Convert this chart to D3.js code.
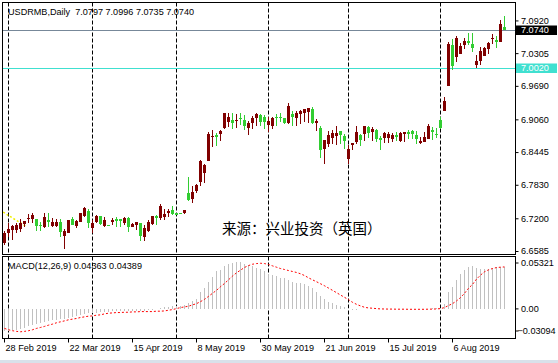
<!DOCTYPE html>
<html><head><meta charset="utf-8">
<script src="https://cdn.jsdelivr.net/npm/d3@7"></script>
<style>
html,body{margin:0;padding:0;background:#fff;}
svg{display:block;}
text{font-family:"Liberation Sans",Arial,sans-serif;fill:#000;}
</style></head><body>
<svg id="c" width="558" height="363"></svg>
<script>
// ---------------- data ----------------
const symbol = "USDRMB";
const period = "Daily";
const firstDate = "2019-02-28";
const holidays = ["2019-04-19"];

const open = [6.6740,6.6916,6.6978,6.6978,6.6997,6.7090,6.7184,6.7184,6.7178,6.7081,
6.7029,6.7165,6.7053,6.7053,6.7134,6.6871,6.6927,6.7190,6.7059,6.7134,
6.7240,6.7339,6.7021,6.7134,6.7240,6.7059,6.7075,6.7122,6.7178,6.7178,
6.7115,6.7197,6.7040,6.7066,6.7104,6.6853,6.6965,6.7090,6.7240,6.7208,
6.7227,6.7291,6.7353,6.7291,6.7291,6.7291,6.7676,6.7564,6.7714,6.7877,
6.8051,6.8276,6.8720,6.8770,6.8776,6.8894,6.9006,6.9057,6.9038,6.9094,
6.9057,6.8894,6.8987,6.9081,6.9137,6.9100,6.8963,6.8944,6.9100,6.9100,
6.9089,6.8987,6.9163,6.9089,6.9163,6.9188,6.9206,6.9263,6.8987,6.8894,
6.8495,6.8602,6.8706,6.8751,6.8832,6.8738,6.8308,6.8583,6.8632,6.8757,
6.8776,6.8912,6.8819,6.8864,6.8714,6.8706,6.8706,6.8695,6.8770,6.8645,
6.8789,6.8819,6.8832,6.8757,6.8613,6.8632,6.8695,6.8851,6.8785,6.9051,
6.9225,6.9693,7.0461,7.0236,7.0298,7.0461,7.0536,7.0485,7.0087,7.0161,
7.0255,7.0392,7.0568,7.0555,7.0523,7.0797];
const high = [6.6959,6.7104,6.7072,6.7104,6.7178,6.7156,6.7278,6.7291,6.7193,6.7134,
6.7302,6.7302,6.7197,6.7184,6.7184,6.6991,6.7174,6.7216,6.7165,6.7296,
6.7414,6.7384,6.7165,6.7259,6.7250,6.7227,6.7081,6.7208,6.7227,6.7184,
6.7227,6.7227,6.7115,6.7134,6.7115,6.7072,6.7165,6.7250,6.7259,6.7478,
6.7384,6.7366,6.7427,6.7302,6.7302,6.7362,6.7976,6.7802,6.7853,6.8289,
6.8227,6.8819,6.8864,6.8800,6.8864,6.9182,6.9175,6.9175,6.9163,6.9188,
6.9150,6.9038,6.9132,6.9175,6.9163,6.9137,6.9100,6.9113,6.9163,6.9175,
6.9094,6.9362,6.9212,6.9225,6.9238,6.9263,6.9276,6.9300,6.9070,6.8944,
6.8673,6.8832,6.8851,6.8926,6.8838,6.8789,6.8570,6.8617,6.8926,6.8789,
6.8931,6.8944,6.8912,6.8883,6.8738,6.8819,6.8819,6.8800,6.8819,6.8819,
6.8823,6.8851,6.8851,6.8832,6.8725,6.8819,6.8976,6.8912,6.8894,6.9100,
6.9487,7.0523,7.0579,7.0635,7.0504,7.0587,7.0686,7.0686,7.0274,7.0424,
7.0418,7.0508,7.0673,7.0630,7.0929,7.0996];
const low = [6.6697,6.6853,6.6791,6.6916,6.6946,6.7034,6.7104,6.7104,6.6965,6.6965,
6.7010,6.7029,6.7029,6.7029,6.6853,6.6628,6.6916,6.7066,6.7010,6.7122,
6.7227,6.7010,6.6916,6.7104,6.7066,6.7040,6.7062,6.7072,6.7040,6.7040,
6.7072,6.6941,6.7029,6.6978,6.6778,6.6778,6.6946,6.7072,6.7072,6.7165,
6.7165,6.7216,6.7259,6.7259,6.7272,6.7287,6.7527,6.7489,6.7676,6.7802,
6.7864,6.8270,6.8538,6.8557,6.8650,6.8883,6.8912,6.8883,6.8894,6.8963,
6.8864,6.8757,6.8883,6.8944,6.8931,6.8883,6.8819,6.8883,6.8944,6.9006,
6.8982,6.8982,6.8944,6.8944,6.8976,6.9006,6.8987,6.8976,6.8837,6.8339,
6.8214,6.8538,6.8602,6.8570,6.8602,6.8495,6.8227,6.8476,6.8602,6.8551,
6.8650,6.8714,6.8650,6.8632,6.8476,6.8620,6.8613,6.8632,6.8645,6.8632,
6.8632,6.8695,6.8695,6.8602,6.8588,6.8626,6.8692,6.8677,6.8714,6.8883,
6.9216,6.9688,6.9993,7.0143,7.0293,7.0392,7.0461,7.0317,7.0017,7.0087,
7.0249,7.0298,7.0485,7.0410,7.0517,7.0735];
const close = [6.6916,6.6991,6.7053,6.7072,6.7115,6.7147,6.7203,6.7259,6.7053,6.7062,
6.7227,6.7128,6.7134,6.7134,6.6946,6.6959,6.7165,6.7077,6.7152,6.7291,
6.7390,6.7115,6.7115,6.7240,6.7090,6.7165,6.7066,6.7165,6.7147,6.7152,
6.7197,6.7029,6.7090,6.7128,6.6871,6.7010,6.7134,6.7240,6.7208,6.7427,
6.7278,6.7339,6.7278,6.7265,6.7278,6.7353,6.7553,6.7690,6.7826,6.8270,
6.8201,6.8776,6.8738,6.8725,6.8838,6.9175,6.9113,6.9000,6.9057,6.9075,
6.8944,6.8987,6.9081,6.9156,6.9006,6.9019,6.9038,6.9081,6.9089,6.9081,
6.8987,6.9306,6.9100,6.9175,6.9212,6.9249,6.9268,6.8987,6.9038,6.8476,
6.8663,6.8757,6.8800,6.8800,6.8757,6.8650,6.8495,6.8613,6.8819,6.8677,
6.8926,6.8800,6.8883,6.8695,6.8663,6.8800,6.8789,6.8770,6.8725,6.8800,
6.8819,6.8789,6.8776,6.8682,6.8650,6.8725,6.8926,6.8819,6.8766,6.8901,
6.9399,7.0485,7.0055,7.0587,7.0442,7.0536,7.0493,7.0410,7.0161,7.0336,
7.0410,7.0504,7.0587,7.0517,7.0849,7.0740];

// MACD(12,26,9): main (histogram) and signal
const macdMain = [-0.0232,-0.0228,-0.0225,-0.0218,-0.0211,-0.0197,-0.0183,-0.0166,-0.0156,-0.0145,
-0.0135,-0.0125,-0.0118,-0.0111,-0.0107,-0.0104,-0.0093,-0.0083,-0.0076,-0.0066,
-0.0055,-0.0048,-0.0045,-0.0038,-0.0035,-0.0031,-0.0028,-0.0024,-0.0021,-0.0021,
-0.0017,-0.0017,-0.0021,-0.0021,-0.0021,-0.0017,-0.0014,-0.0010,-0.0003,0.0007,
0.0017,0.0024,0.0028,0.0028,0.0031,0.0038,0.0066,0.0083,0.0107,0.0176,
0.0221,0.0280,0.0336,0.0394,0.0405,0.0446,0.0474,0.0481,0.0488,0.0488,
0.0474,0.0464,0.0446,0.0429,0.0412,0.0394,0.0370,0.0353,0.0340,0.0325,
0.0318,0.0301,0.0284,0.0273,0.0266,0.0256,0.0242,0.0215,0.0180,0.0138,
0.0104,0.0076,0.0059,0.0042,0.0035,0.0024,0.0014,-0.0010,-0.0007,-0.0005,
-0.0004,-0.0004,-0.0003,-0.0005,-0.0006,-0.0004,-0.0004,-0.0003,-0.0004,-0.0003,
-0.0003,-0.0004,-0.0005,-0.0005,-0.0004,-0.0002,0.0003,0.0005,0.0006,0.0010,
0.0048,0.0173,0.0232,0.0301,0.0360,0.0405,0.0439,0.0450,0.0429,0.0422,
0.0422,0.0422,0.0429,0.0433,0.0436,0.04363];
const macdSignal = [-0.0204,-0.0218,-0.0228,-0.0235,-0.0239,-0.0235,-0.0228,-0.0218,-0.0204,-0.0194,
-0.0183,-0.0170,-0.0159,-0.0145,-0.0135,-0.0125,-0.0114,-0.0107,-0.0100,-0.0090,
-0.0083,-0.0076,-0.0073,-0.0066,-0.0062,-0.0052,-0.0045,-0.0042,-0.0038,-0.0038,
-0.0035,-0.0035,-0.0031,-0.0031,-0.0028,-0.0028,-0.0028,-0.0028,-0.0024,-0.0024,
-0.0021,-0.0014,-0.0007,0.0003,0.0014,0.0021,0.0028,0.0042,0.0055,0.0076,
0.0100,0.0131,0.0163,0.0194,0.0232,0.0266,0.0304,0.0343,0.0377,0.0405,
0.0433,0.0453,0.0467,0.0474,0.0477,0.0474,0.0464,0.0450,0.0436,0.0422,
0.0412,0.0401,0.0391,0.0381,0.0367,0.0349,0.0325,0.0304,0.0284,0.0263,
0.0242,0.0218,0.0194,0.0170,0.0145,0.0121,0.0097,0.0069,0.0048,0.0031,
0.0017,0.0010,0.0007,0.0003,0.0000,-0.0001,-0.0002,-0.0002,-0.0003,-0.0003,
-0.0003,-0.0004,-0.0004,-0.0004,-0.0004,-0.0004,-0.0003,-0.0002,0.0000,0.0003,
0.0014,0.0035,0.0055,0.0083,0.0118,0.0163,0.0215,0.0256,0.0311,0.0353,
0.0388,0.0408,0.0422,0.0432,0.0436,0.04389];

const priceTicks = [7.0920, 7.0305, 6.9690, 6.9060, 6.8445, 6.7830, 6.7200, 6.6585];
const macdTicks = [0.05321, 0.00, -0.03094];
const dateTickLabels = ["28 Feb 2019","22 Mar 2019","15 Apr 2019","8 May 2019","30 May 2019","21 Jun 2019","15 Jul 2019","6 Aug 2019"];
const bidPrice = 7.0740;
const levelPrice = 7.0020;
const yellowTrend = [{i:-0.2, v:6.7315},{i:5.7, v:6.7040}];
const watermark = "来源：兴业投资（英国）";
const macdName = "MACD(12,26,9)";

// ---------------- build dates ----------------
const n = open.length;
const parse = d3.timeParse("%Y-%m-%d");
const fmtKey = d3.timeFormat("%Y-%m-%d");
const fmtLabel = d3.timeFormat("%-d %b %Y");
const dates = [];
{
  let d = parse(firstDate);
  while (dates.length < n) {
    const wd = d.getDay();
    if (wd !== 0 && wd !== 6 && !holidays.includes(fmtKey(d))) dates.push(new Date(d));
    d = d3.timeDay.offset(d, 1);
  }
}
const tickIdx = dateTickLabels.map(l => dates.findIndex(d => fmtLabel(d) === l));
const sepIdx = [];
for (let i = 1; i < n; i++) if (dates[i].getMonth() !== dates[i-1].getMonth()) sepIdx.push(i);

// ---------------- layout ----------------
const FS = "9.1px";
const L = 2.5, R = 515.5;
const mainTop = 2.5, mainBot = 254.5;
const macdTop = 256.5, macdBot = 338.5;
const svg = d3.select("#c");

const x = d3.scaleLinear().domain([0, n - 1]).range([4, 4 + 4 * (n - 1)]);
const yP = d3.scaleLinear().domain([6.6585, 7.0740]).range([251, 30]);
const yM = d3.scaleLinear().domain([-0.03094, 0.05321]).range([macdBot, 258]);

const upCol = "#800000", dnCol = "#32cd32";

svg.append("rect").attr("x",0).attr("y",0).attr("width",558).attr("height",363).attr("fill","#fff");

svg.append("clipPath").attr("id","cm").append("rect").attr("x",L).attr("y",mainTop).attr("width",R-L).attr("height",mainBot-mainTop);
svg.append("clipPath").attr("id","cd").append("rect").attr("x",L).attr("y",macdTop).attr("width",R-L).attr("height",macdBot-macdTop);

const gMain = svg.append("g").attr("clip-path","url(#cm)");
const gMacd = svg.append("g").attr("clip-path","url(#cd)");

// period separators
[[gMain, mainTop, mainBot],[gMacd, macdTop, macdBot]].forEach(([g, t, b]) => {
  g.selectAll(null).data(sepIdx).join("line")
    .attr("x1", i => Math.round(x(i)) + 0.5).attr("x2", i => Math.round(x(i)) + 0.5)
    .attr("y1", t).attr("y2", b)
    .attr("stroke","#000").attr("stroke-width",1).attr("stroke-dasharray","4,2");
});

// horizontal lines
gMain.append("line").attr("x1",L).attr("x2",R)
  .attr("y1", Math.round(yP(bidPrice)) + 0.5).attr("y2", Math.round(yP(bidPrice)) + 0.5)
  .attr("stroke","#778899").attr("stroke-width",1);
gMain.append("line").attr("x1",L).attr("x2",R)
  .attr("y1", Math.round(yP(levelPrice)) + 0.5).attr("y2", Math.round(yP(levelPrice)) + 0.5)
  .attr("stroke","#40e0d0").attr("stroke-width",1);

// yellow dotted trend remnant
gMain.append("path").datum(yellowTrend)
  .attr("d", d3.line().x(d => x(d.i)).y(d => yP(d.v)))
  .attr("fill","none").attr("stroke","#f0f000").attr("stroke-width",1.5).attr("stroke-dasharray","2,2");

// candles
const idx = d3.range(n);
const cg = gMain.append("g").attr("shape-rendering","crispEdges");
cg.selectAll("line.wick").data(idx).join("line").attr("class","wick")
  .attr("x1", i => Math.round(x(i)) + 0.5).attr("x2", i => Math.round(x(i)) + 0.5)
  .attr("y1", i => yP(high[i])).attr("y2", i => yP(low[i]))
  .attr("stroke", i => close[i] >= open[i] ? upCol : dnCol).attr("stroke-width",1);
cg.selectAll("rect.body").data(idx).join("rect").attr("class","body")
  .attr("x", i => Math.round(x(i)) - 1)
  .attr("width", 3)
  .attr("y", i => Math.round(yP(Math.max(open[i], close[i]))))
  .attr("height", i => Math.max(1, Math.round(yP(Math.min(open[i], close[i]))) - Math.round(yP(Math.max(open[i], close[i])))))
  .attr("fill", i => close[i] >= open[i] ? upCol : dnCol);

// watermark
svg.append("text").attr("x",222).attr("y",234)
  .style("font-family",'"Noto Sans CJK SC","Noto Sans",sans-serif').style("font-size","14.5px")
  .text(watermark);

// MACD histogram
const z0 = yM(0);
gMacd.append("g").attr("shape-rendering","crispEdges")
  .selectAll("line").data(idx).join("line")
  .attr("x1", i => Math.round(x(i)) + 0.5).attr("x2", i => Math.round(x(i)) + 0.5)
  .attr("y1", z0).attr("y2", i => yM(macdMain[i]))
  .attr("stroke","#c0c0c0").attr("stroke-width",1);
// signal line
gMacd.append("path").datum(idx)
  .attr("d", d3.line().x(i => x(i) + 0.5).y(i => yM(macdSignal[i])))
  .attr("fill","none").attr("stroke","#ff0000").attr("stroke-width",1).attr("stroke-dasharray","2,2");

// frames
svg.append("rect").attr("x",L).attr("y",mainTop).attr("width",R-L).attr("height",mainBot-mainTop)
  .attr("fill","none").attr("stroke","#000").attr("shape-rendering","crispEdges");
svg.append("rect").attr("x",L).attr("y",macdTop).attr("width",R-L).attr("height",macdBot-macdTop)
  .attr("fill","none").attr("stroke","#000").attr("shape-rendering","crispEdges");

// right price axis
const pAxis = svg.append("g").attr("transform",`translate(${R},0)`)
  .call(d3.axisRight(yP).tickValues(priceTicks).tickFormat(d3.format(".4f")).tickSize(3).tickPadding(2.5));
pAxis.select(".domain").remove();
pAxis.selectAll("text").style("font-family",'"Liberation Sans",Arial,sans-serif').style("font-size",FS).attr("fill","#000");
pAxis.selectAll("line").attr("stroke","#000");

// price label boxes
function priceBox(v, bg) {
  const yy = Math.round(yP(v));
  svg.append("rect").attr("x",R+0.5).attr("y",yy-4.5).attr("width",41).attr("height",9.5).attr("fill",bg);
  svg.append("text").attr("x",R+5.5).attr("y",yy).attr("dy","0.35em")
    .style("font-size",FS).style("fill","#fff").text(d3.format(".4f")(v));
}
priceBox(bidPrice, "#000");
priceBox(levelPrice, "#40e0d0");

// MACD axis
const mAxis = svg.append("g").attr("transform",`translate(${R},0)`)
  .call(d3.axisRight(yM).tickValues(macdTicks).tickFormat(d => d === 0 ? "0.00" : d3.format(".5f")(d)).tickSize(3).tickPadding(2.5));
mAxis.select(".domain").remove();
mAxis.selectAll(".tick").attr("transform", d => `translate(0,${Math.max(macdTop + 6.5, Math.min(macdBot - 7.5, yM(d)))})`);
mAxis.selectAll("text").style("font-family",'"Liberation Sans",Arial,sans-serif').style("font-size",FS).attr("fill","#000")
  .attr("x", d => d < 0 ? 2 : 5.5);
mAxis.selectAll("line").attr("stroke","#000");

// time axis
const tAxis = svg.append("g").attr("transform",`translate(0,${macdBot})`)
  .call(d3.axisBottom(x).tickValues(tickIdx).tickFormat((d, k) => dateTickLabels[k]).tickSize(4).tickPadding(2));
tAxis.select(".domain").remove();
tAxis.selectAll(".tick").attr("transform", d => `translate(${Math.round(x(d)) + 0.5},0)`);
tAxis.selectAll("text").attr("text-anchor","start").attr("x",1).attr("dy","0.71em")
  .style("font-family",'"Liberation Sans",Arial,sans-serif').style("font-size",FS).attr("fill","#000");
tAxis.selectAll("line").attr("stroke","#000");

// title and MACD label
const f4 = d3.format(".4f"), f5 = d3.format(".5f");
svg.append("text").attr("x",8).attr("y",15).attr("xml:space","preserve").style("white-space","pre")
  .style("font-size",FS)
  .text(`${symbol},${period}  ${f4(open[n-1])} ${f4(high[n-1])} ${f4(low[n-1])} ${f4(close[n-1])}`);
svg.append("text").attr("x",8).attr("y",268.5).attr("xml:space","preserve").style("white-space","pre")
  .style("font-size",FS)
  .text(`${macdName} ${f5(macdMain[n-1])} ${f5(macdSignal[n-1])}`);

// bottom status strip
svg.append("rect").attr("x",0).attr("y",360).attr("width",558).attr("height",3).attr("fill","#d9e1ea");
</script>
</body></html>
